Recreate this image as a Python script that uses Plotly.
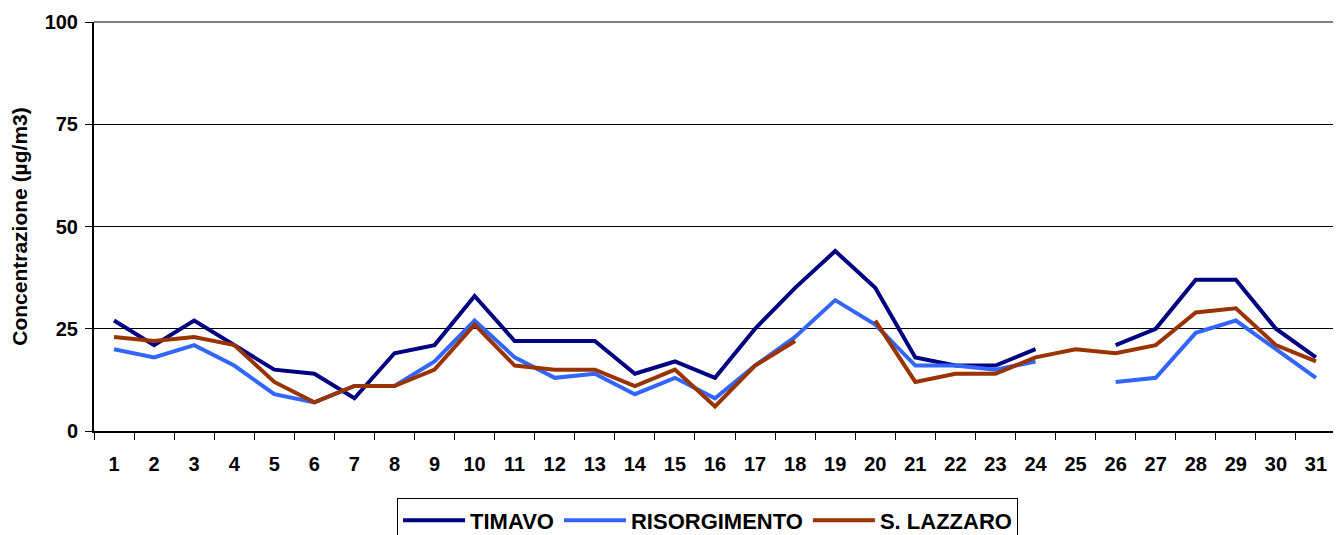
import plotly.graph_objects as go

days = [str(d) for d in range(1, 32)]

timavo = [27, 21, 27, 21, 15, 14, 8, 19, 21, 33,
          22, 22, 22, 14, 17, 13, 25, 35, 44, 35,
          18, 16, 16, 20, None, 21, 25, 37, 37, 25, 18]
risorgimento = [20, 18, 21, 16, 9, 7, 11, 11, 17, 27,
                18, 13, 14, 9, 13, 8, 16, 23, 32, 26,
                16, 16, 15, 17, None, 12, 13, 24, 27, 20, 13]
s_lazzaro = [23, 22, 23, 21, 12, 7, 11, 11, 15, 26,
             16, 15, 15, 11, 15, 6, 16, 22, None, 27,
             12, 14, 14, 18, 20, 19, 21, 29, 30, 21, 17]

series_names = ["TIMAVO", "RISORGIMENTO", "S. LAZZARO"]
series_colors = ["#000080", "#3366FF", "#993300"]
y_ticks = [0, 25, 50, 75, 100]
y_title = "Concentrazione (µg/m3)"

FONT = "Liberation Sans, Arial, sans-serif"

fig = go.Figure()
for name, vals, col in zip(series_names, [timavo, risorgimento, s_lazzaro], series_colors):
    fig.add_trace(go.Scatter(
        x=days, y=vals, name=name, mode="lines",
        line=dict(color=col, width=4),
        connectgaps=False,
    ))

# page body has an 8px margin, so the figure is drawn from (8, 8)
fig.update_layout(
    width=1333, height=527,
    margin=dict(l=86, r=5, t=14, b=104, autoexpand=False),
    paper_bgcolor="white", plot_bgcolor="white",
    font=dict(family=FONT, color="black"),
    showlegend=True,
    legend=dict(
        orientation="h", x=0.494, xanchor="center", y=-0.165, yanchor="top",
        bordercolor="black", borderwidth=1,
        font=dict(family=FONT, size=22, color="black", weight="bold"),
        itemwidth=62, tracegroupgap=0,
    ),
    xaxis=dict(
        type="category", tickson="boundaries", automargin=False,
        showgrid=False, showline=True, linecolor="black", linewidth=2,
        ticks="outside", ticklen=7, tickcolor="black", tickwidth=1,
        ticklabelstandoff=14,
        tickfont=dict(family=FONT, size=20, color="black", weight="bold"),
        range=[-0.5, 30.5],
    ),
    yaxis=dict(
        range=[0, 100], tickvals=y_ticks, automargin=False,
        showgrid=True, gridcolor="black", gridwidth=1,
        showline=True, linecolor="black", linewidth=2,
        ticks="outside", ticklen=7, tickcolor="black",
        ticklabelstandoff=3,
        tickfont=dict(family=FONT, size=20, color="black", weight="bold"),
        zeroline=False,
        title=dict(text=y_title, standoff=14,
                   font=dict(family=FONT, size=21, color="black", weight="bold")),
    ),
    shapes=[
        dict(type="line", xref="paper", yref="paper", x0=0, x1=1, y0=1, y1=1,
             line=dict(color="#808080", width=2)),
        dict(type="line", xref="paper", yref="paper", x0=1, x1=1, y0=0, y1=1,
             line=dict(color="#808080", width=2)),
    ],
)

fig.write_html("out.html")
